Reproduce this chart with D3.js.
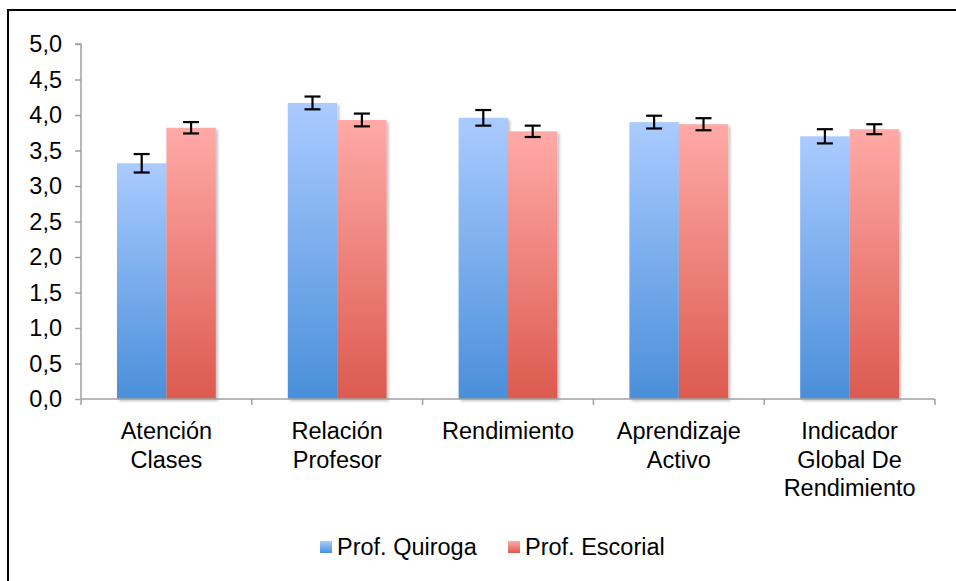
<!DOCTYPE html>
<html><head><meta charset="utf-8">
<script src="https://cdn.jsdelivr.net/npm/d3@7/dist/d3.min.js"></script>
<style>body{margin:0;background:#fff;}svg{display:block;font-family:"Liberation Sans",Arial,sans-serif;}</style>
</head><body>
<svg id="c" width="956" height="581"></svg>
<script>
const categories = [["Atención","Clases"],["Relación","Profesor"],["Rendimiento"],["Aprendizaje","Activo"],["Indicador","Global De","Rendimiento"]];
const seriesNames = ["Prof. Quiroga","Prof. Escorial"];
const quiroga = [3.32, 4.17, 3.96, 3.90, 3.70];
const escorial = [3.82, 3.93, 3.77, 3.87, 3.80];
const quirogaErr = [0.13, 0.09, 0.11, 0.09, 0.10];
const escorialErr = [0.08, 0.09, 0.08, 0.085, 0.07];
const yTicks = [0,0.5,1,1.5,2,2.5,3,3.5,4,4.5,5];

(function(){
const svg = d3.select("#c");
const defs = svg.append("defs");
const grads = [["#aacbff","#4a8fda"],["#ffaaa7","#dc5a4f"]];
grads.forEach((g,i)=>{
  const lg = defs.append("linearGradient").attr("id","g"+i).attr("x1",0).attr("y1",0).attr("x2",0).attr("y2",1);
  lg.append("stop").attr("offset","0%").attr("stop-color",g[0]);
  lg.append("stop").attr("offset","100%").attr("stop-color",g[1]);
});
const f = defs.append("filter").attr("id","sh").attr("x","-10%").attr("y","-10%").attr("width","130%").attr("height","130%");
f.append("feDropShadow").attr("dx",2).attr("dy",2).attr("stdDeviation",1.5).attr("flood-color","#000").attr("flood-opacity",0.25);

// outer border
svg.append("path").attr("d","M8,590 L8,10 L970,10").attr("fill","none").attr("stroke","#000").attr("stroke-width",2);

const pl=81, pr=935, pt=44, pb=399;
const FS = 23.5;
const y = d3.scaleLinear().domain([0,5]).range([pb,pt]);
const x0 = d3.scaleBand().domain(d3.range(categories.length)).range([pl,pr]).paddingInner(0).paddingOuter(0);
const x1 = d3.scaleBand().domain([0,1]).range([36, x0.bandwidth()-36]);

const data = [quiroga, escorial];
const errs = [quirogaErr, escorialErr];

// y axis
const yAxis = d3.axisLeft(y).tickValues(yTicks).tickSize(6).tickFormat(d=>d.toFixed(1).replace(".",","));
const ya = svg.append("g").attr("transform",`translate(${pl},0)`).call(yAxis);
ya.select(".domain").attr("stroke","#a0a0a0").attr("stroke-width",1.5).attr("d",`M-6,${pt}H0V${pb}`);
ya.selectAll(".tick line").attr("stroke","#a0a0a0").attr("stroke-width",1.5);
ya.selectAll(".tick text").attr("font-size",FS).attr("fill","#000").attr("x",-19).attr("font-family","'Liberation Sans',Arial,sans-serif");

// bars
const g = svg.append("g");
data.forEach((vals,s)=>{
  g.selectAll(".b"+s).data(vals).enter().append("rect")
    .attr("x",(d,i)=>x0(i)+x1(s)).attr("width",x1.bandwidth())
    .attr("y",d=>y(d)).attr("height",d=>y(0)-y(d))
    .attr("fill",`url(#g${s})`).attr("filter","url(#sh)");
});

// x axis
const xa = svg.append("g").attr("transform",`translate(0,${pb})`);
xa.append("path").attr("d",`M${pl},0H${pr}`).attr("stroke","#a0a0a0").attr("stroke-width",1.5);
d3.range(categories.length+1).forEach(i=>{
  const xx = i<categories.length ? x0(i) : pr;
  xa.append("line").attr("x1",xx).attr("x2",xx).attr("y1",0).attr("y2",6).attr("stroke","#a0a0a0").attr("stroke-width",1.5);
});
categories.forEach((lines,i)=>{
  const t = xa.append("text").attr("text-anchor","middle").attr("font-size",FS).attr("fill","#000");
  lines.forEach((l,j)=>t.append("tspan").attr("x",x0(i)+x0.bandwidth()/2).attr("y",40+j*28.5).text(l));
});

// error bars
data.forEach((vals,s)=>{
  vals.forEach((v,i)=>{
    const cx = x0(i)+x1(s)+x1.bandwidth()/2;
    const e = errs[s][i];
    const eg = svg.append("g").attr("stroke","#000").attr("stroke-width",2.2);
    eg.append("line").attr("x1",cx).attr("x2",cx).attr("y1",y(v+e)).attr("y2",y(v-e));
    eg.append("line").attr("x1",cx-8).attr("x2",cx+8).attr("y1",y(v+e)).attr("y2",y(v+e));
    eg.append("line").attr("x1",cx-8).attr("x2",cx+8).attr("y1",y(v-e)).attr("y2",y(v-e));
  });
});

// legend
const legX = [320, 508];
seriesNames.forEach((n,s)=>{
  const lg = svg.append("g").attr("transform",`translate(${legX[s]},541)`);
  lg.append("rect").attr("width",12).attr("height",12).attr("fill",`url(#g${s})`);
  lg.append("text").attr("x",17).attr("y",14).attr("font-size",FS).attr("fill","#000").text(n);
});
})();
</script>
</body></html>
